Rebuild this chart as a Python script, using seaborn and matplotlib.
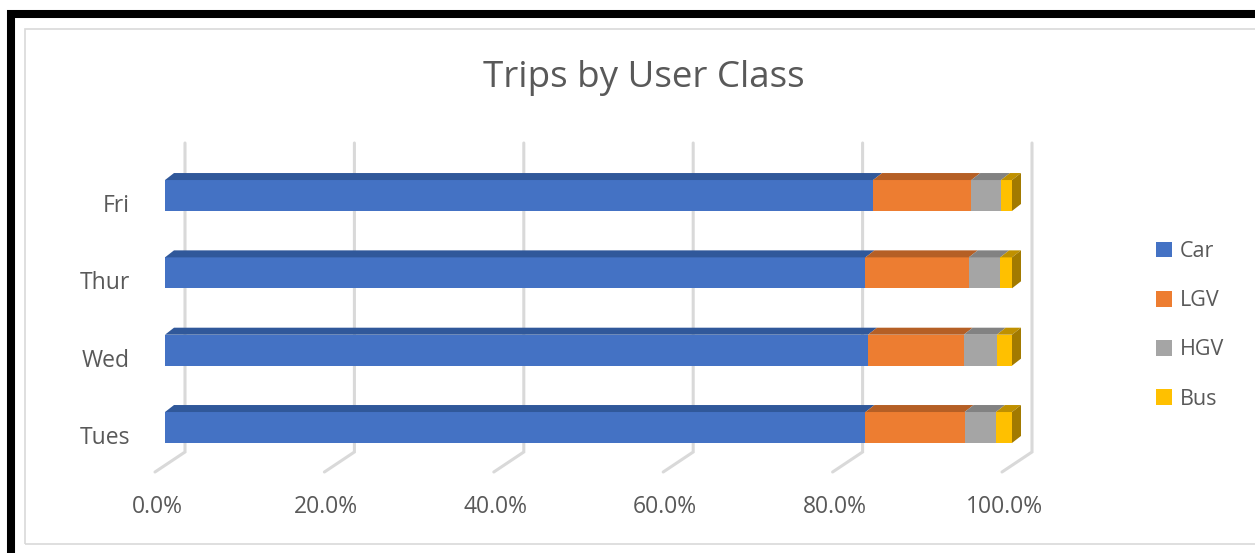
import numpy as np
import pandas as pd
import matplotlib
matplotlib.use("Agg")
import matplotlib.pyplot as plt
import matplotlib.transforms as mtransforms
from matplotlib.patches import Polygon, Rectangle, Patch
from matplotlib.lines import Line2D
import seaborn as sns

# ---- data: share of trips (%) by user class for each survey day ----
days = ["Fri", "Thur", "Wed", "Tues"]
classes = ["Car", "LGV", "HGV", "Bus"]
car = [83.6, 82.7, 83.0, 82.7]
lgv = [11.6, 12.2, 11.3, 11.7]
hgv = [3.5, 3.7, 3.9, 3.7]
bus = [1.3, 1.4, 1.8, 1.9]
x_ticks = [0, 20, 40, 60, 80, 100]
x_tick_labels = ["0.0%", "20.0%", "40.0%", "60.0%", "80.0%", "100.0%"]

# ---- styling ----
front_colors = ["#4472C4", "#ED7D31", "#A5A5A5", "#FFC000"]
top_colors = ["#30589A", "#B55F25", "#828282", "#BF9000"]
end_color = "#A27A00"
text_color = "#595959"
grid_color = "#D9D9D9"

sns.set_style("white")
plt.rcParams["font.family"] = ["Open Sans", "DejaVu Sans"]

W, H = 1255, 553
fig = plt.figure(figsize=(W / 100, H / 100), dpi=100)
fig.patch.set_facecolor("white")


def fx(px):
    return px / W


def fy(py):
    return 1 - py / H


# outer frame and chart-area border
fig.add_artist(Rectangle((fx(11), fy(700)), fx(1400), 700 / H - 13.5 / H,
                         transform=fig.transFigure, fill=False,
                         edgecolor="black", linewidth=5.8, clip_on=False))
fig.add_artist(Rectangle((fx(25), fy(544)), fx(1400), (544 - 29) / H,
                         transform=fig.transFigure, fill=False,
                         edgecolor="#D9D9D9", linewidth=1.2, clip_on=False))

# plot area (front plane of the 3-D bars)
ax_l, ax_r, ax_t, ax_b = 165, 1012, 140, 480
ax = fig.add_axes([fx(ax_l), fy(ax_b), (ax_r - ax_l) / W, (ax_b - ax_t) / H])

df = pd.DataFrame({"day": days, "Car": car, "LGV": lgv, "HGV": hgv, "Bus": bus})
shares = df[classes].to_numpy(dtype=float)
cum = np.cumsum(shares, axis=1)
lefts = cum - shares

bar_w = 0.4
for j in reversed(range(len(classes))):
    sns.barplot(x=cum[:, j], y=df["day"], order=days, orient="h",
                color=front_colors[j], saturation=1, width=bar_w,
                errorbar=None, linewidth=0, ax=ax, zorder=3)

row_px = 77.33
ax.set_xlim(0, 100)
ax.set_ylim((ax_b - 195.5) / row_px, (ax_t - 195.5) / row_px)
ax.set_axis_off()

# depth offsets (pixels)
depth_dx, depth_dy = 9, 7      # bar top / end face
back_dx = 20                    # back wall of the chart
floor_dx, floor_dy = -10, -20   # floor edge in front

to_disp = ax.transData.transform
ident = mtransforms.IdentityTransform()

# gridlines on the back wall plus their floor projections
grid_top = (143 - 195.5) / row_px
grid_bot = (452 - 195.5) / row_px
for t in x_ticks:
    p_top = to_disp((t, grid_top)) + [back_dx, 0]
    p_bot = to_disp((t, grid_bot)) + [back_dx, 0]
    p_floor = to_disp((t, grid_bot)) + [floor_dx, floor_dy]
    ax.add_line(Line2D([p_top[0], p_bot[0], p_floor[0]],
                       [p_top[1], p_bot[1], p_floor[1]],
                       transform=ident, color=grid_color, lw=2.2,
                       solid_joinstyle="miter", zorder=1, clip_on=False))

# top faces and the right-hand end face of each bar
d = np.array([depth_dx, depth_dy])
for i in range(len(days)):
    y_top = i - bar_w / 2
    y_bot = i + bar_w / 2
    for j in range(len(classes)):
        a = to_disp((lefts[i, j], y_top))
        b = to_disp((cum[i, j], y_top))
        ax.add_patch(Polygon([a, b, b + d, a + d], closed=True,
                             transform=ident, facecolor=top_colors[j],
                             edgecolor="none", zorder=4, clip_on=False))
    e_top = to_disp((cum[i, -1], y_top))
    e_bot = to_disp((cum[i, -1], y_bot))
    ax.add_patch(Polygon([e_bot, e_top, e_top + d, e_bot + d], closed=True,
                         transform=ident, facecolor=end_color,
                         edgecolor="none", zorder=4, clip_on=False))

# category labels
for i, day in enumerate(days):
    ax.text(0, i, day, ha="right", va="baseline", fontsize=16.5, color=text_color,
            transform=mtransforms.offset_copy(ax.transData, fig=fig, x=-35, y=-16.5,
                                              units="dots"), clip_on=False)

# value-axis labels
lab_base = (513 - 195.5) / row_px
for t, lab in zip(x_ticks, x_tick_labels):
    ax.text(t, lab_base, lab, ha="center", va="baseline", fontsize=16.5,
            color=text_color,
            transform=mtransforms.offset_copy(ax.transData, fig=fig, x=-8, y=0,
                                              units="dots"), clip_on=False)

# title
fig.text(fx(644), fy(87), "Trips by User Class", ha="center", va="baseline",
         fontsize=26.5, color=text_color)

# legend
handles = [Patch(facecolor=c, edgecolor="none") for c in front_colors]
fig.legend(handles, classes, loc="upper left", bbox_to_anchor=(fx(1156), fy(241)),
           frameon=False, fontsize=15.5, handlelength=0.74, handleheight=0.74,
           handletextpad=0.36, labelspacing=1.31, borderpad=0, borderaxespad=0,
           labelcolor=text_color)

fig.savefig("out.png", dpi=100)
